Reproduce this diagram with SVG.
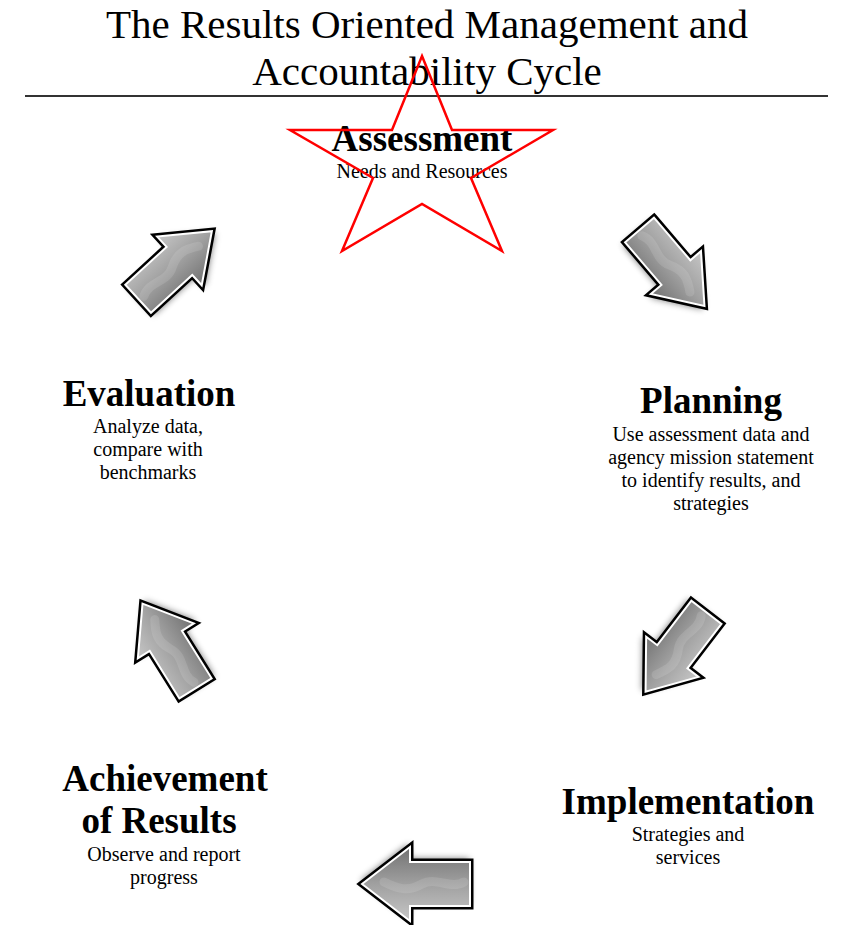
<svg xmlns="http://www.w3.org/2000/svg" xmlns:xlink="http://www.w3.org/1999/xlink" width="843" height="925" viewBox="0 0 843 925">
  <style>
    .title { font-family: "Liberation Serif", "Times New Roman", serif; font-size: 41px; fill: #000; text-anchor: middle; }
    .head { font-family: "Liberation Serif", "Times New Roman", serif; font-size: 37px; font-weight: bold; fill: #000; text-anchor: middle; }
    .sub { font-family: "Liberation Serif", "Times New Roman", serif; font-size: 20px; fill: #000; text-anchor: middle; }
    .arrow-shadow { fill: #000; opacity: 0.6; filter: url(#soft); }
    .arrow-edge { fill: none; stroke: #000; stroke-width: 7; stroke-linejoin: miter; }
    .arrow-body { fill: url(#metal); stroke: #fff; stroke-width: 2; stroke-linejoin: miter; }
    .arrow-wave { fill: none; stroke: #fff; stroke-opacity: 0.12; stroke-width: 9; stroke-linecap: round; }
  </style>
  <defs>
    <filter id="soft" x="-30%" y="-30%" width="160%" height="160%">
      <feGaussianBlur stdDeviation="3.5"/>
    </filter>
    <linearGradient id="metal" x1="0" y1="0" x2="0" y2="1">
      <stop offset="0" stop-color="#c6c6c6"/>
      <stop offset="0.5" stop-color="#a0a0a0"/>
      <stop offset="1" stop-color="#727272"/>
    </linearGradient>
    <!-- block arrow pointing along +x, centred on the origin -->
    <path id="arrowShape" d="M-50,-19 L6,-19 L6,-33 L50,0 L6,33 L6,19 L-50,19 Z"/>
    <path id="arrowShapeLg" d="M-54,-22 L6,-22 L6,-37 L54,0 L6,37 L6,22 L-54,22 Z"/>
    <g id="arrow">
      <use xlink:href="#arrowShape" class="arrow-shadow" transform="translate(1,3)"/>
      <use xlink:href="#arrowShape" class="arrow-edge"/>
      <use xlink:href="#arrowShape" class="arrow-body"/>
      <path class="arrow-wave" d="M-44,2 C-30,-6 -18,8 -4,0 S18,-5 30,2"/>
    </g>
    <g id="arrowLg">
      <use xlink:href="#arrowShapeLg" class="arrow-shadow" transform="translate(1,3)"/>
      <use xlink:href="#arrowShapeLg" class="arrow-edge"/>
      <use xlink:href="#arrowShapeLg" class="arrow-body"/>
      <path class="arrow-wave" d="M-48,2 C-34,-6 -20,8 -6,0 S18,-5 32,2"/>
    </g>
  </defs>

  <rect width="843" height="925" fill="#fff"/>

  <!-- heading -->
  <g id="title">
    <text class="title" x="427" y="38">The Results Oriented Management and</text>
    <text class="title" x="427" y="85">Accountability Cycle</text>
    <line x1="25" y1="96" x2="828" y2="96" stroke="#333" stroke-width="2"/>
  </g>

  <!-- cycle stages -->
  <g id="assessment">
    <text class="head" x="422" y="151">Assessment</text>
    <text class="sub" x="422" y="178">Needs and Resources</text>
    <polygon points="422,56 452,130 553,130 471,178 502,251 422,204 342,251 373,178 290,130 392,130" fill="none" stroke="#f00" stroke-width="2.5"/>
  </g>

  <g id="planning">
    <text class="head" x="711" y="413">Planning</text>
    <text class="sub" x="711" y="441">Use assessment data and</text>
    <text class="sub" x="711" y="464">agency mission statement</text>
    <text class="sub" x="711" y="487">to identify results, and</text>
    <text class="sub" x="711" y="510">strategies</text>
  </g>

  <g id="implementation">
    <text class="head" x="688" y="814">Implementation</text>
    <text class="sub" x="688" y="841">Strategies and</text>
    <text class="sub" x="688" y="864">services</text>
  </g>

  <g id="achievement">
    <text class="head" x="165" y="791">Achievement</text>
    <text class="head" x="159" y="833">of Results</text>
    <text class="sub" x="164" y="861">Observe and report</text>
    <text class="sub" x="164" y="884">progress</text>
  </g>

  <g id="evaluation">
    <text class="head" x="149" y="406">Evaluation</text>
    <text class="sub" x="148" y="433">Analyze data,</text>
    <text class="sub" x="148" y="456">compare with</text>
    <text class="sub" x="148" y="479">benchmarks</text>
  </g>

  <!-- connectors between stages -->
  <g id="connectors">
    <use xlink:href="#arrow" transform="translate(672,268) rotate(49.5)"/>
    <use xlink:href="#arrow" transform="translate(676,652) rotate(127.5)"/>
    <use xlink:href="#arrowLg" transform="translate(416,884) rotate(180)"/>
    <use xlink:href="#arrow" transform="translate(169,646) rotate(-122)"/>
    <use xlink:href="#arrow" transform="translate(175,265) rotate(-42.5)"/>
  </g>
</svg>
